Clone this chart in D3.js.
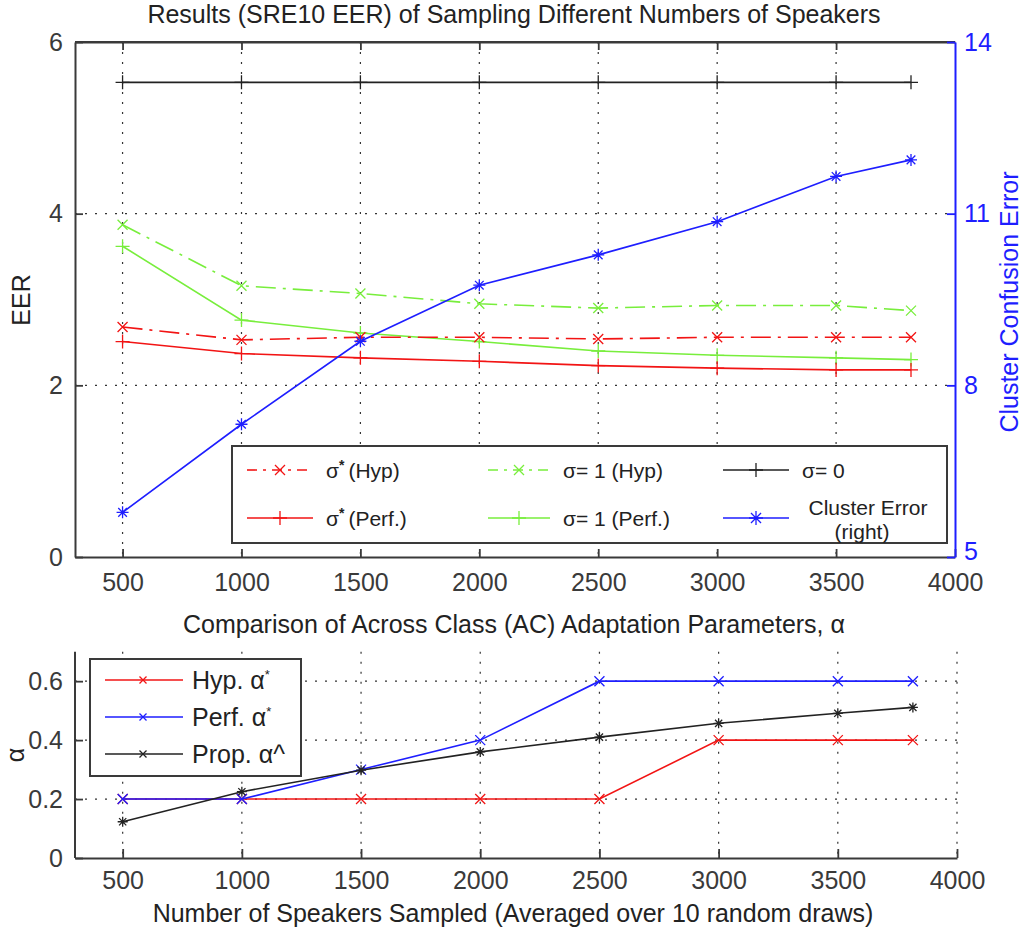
<!DOCTYPE html>
<html><head><meta charset="utf-8">
<script src="https://cdn.jsdelivr.net/npm/d3@7/dist/d3.min.js"></script>
<style>
body{margin:0;background:#fff;}
svg text{font-family:"Liberation Sans",Arial,sans-serif;fill:#222;}
</style></head>
<body><svg id="c" width="1034" height="932"></svg>
<script>
// ---------- data ----------
const speakers = [500,1000,1500,2000,2500,3000,3500,3815];
const sigStarHyp  = [2.68,2.53,2.56,2.56,2.54,2.56,2.56,2.56];
const sigStarPerf = [2.51,2.37,2.32,2.28,2.23,2.20,2.18,2.18];
const sig1Hyp     = [3.87,3.16,3.07,2.95,2.90,2.93,2.93,2.87];
const sig1Perf    = [3.62,2.76,2.61,2.51,2.40,2.35,2.32,2.30];
const sig0        = [5.53,5.53,5.53,5.53,5.53,5.53,5.53,5.53];
const clusterErr  = [5.78,7.32,8.77,9.75,10.28,10.86,11.65,11.94];
const hypAlpha    = [0.2,0.2,0.2,0.2,0.2,0.4,0.4,0.4];
const perfAlpha   = [0.2,0.2,0.3,0.4,0.6,0.6,0.6,0.6];
const propAlpha   = [0.123,0.225,0.298,0.36,0.41,0.457,0.491,0.511];
const xTicks = [500,1000,1500,2000,2500,3000,3500,4000];
const eerTicks = [0,2,4,6];
const ceTicks = [5,8,11,14];
const alphaTicks = [0,0.2,0.4,0.6];
const title1 = "Results (SRE10 EER) of Sampling Different Numbers of Speakers";
const title2 = "Comparison of Across Class (AC) Adaptation Parameters, α";
const xLabel = "Number of Speakers Sampled (Averaged over 10 random draws)";

const RED="#f21414", GREEN="#78ee3c", BLUE="#1e1eff", BLACK="#222", AX="#3a3a3a";
const svg = d3.select("#c");

// ---------- marker helper ----------
function marker(g, type, x, y, s, color, w){
  let p = "";
  if(type==="x") p=`M${x-s},${y-s}L${x+s},${y+s}M${x-s},${y+s}L${x+s},${y-s}`;
  if(type==="+") p=`M${x-s},${y}L${x+s},${y}M${x},${y-s}L${x},${y+s}`;
  if(type==="*"){const t=s*0.72;p=`M${x-s},${y}L${x+s},${y}M${x},${y-s}L${x},${y+s}M${x-t},${y-t}L${x+t},${y+t}M${x-t},${y+t}L${x+t},${y-t}`;}
  g.append("path").attr("d",p).attr("stroke",color).attr("stroke-width",w||1.3).attr("fill","none");
}

// ---------- top plot ----------
const x1 = d3.scaleLinear([300,4000],[75,955]);
const yL = d3.scaleLinear([0,6],[557,42]);
const yR = d3.scaleLinear([5,14],[557,42]);
const topG = svg.append("g");
// grid
topG.selectAll(".vg").data(xTicks.filter(d=>d<4000)).join("line")
  .attr("x1",d=>x1(d)).attr("x2",d=>x1(d)).attr("y1",42).attr("y2",557)
  .attr("stroke","#333").attr("stroke-width",1.2).attr("stroke-dasharray","2,8");
topG.selectAll(".hg").data([2,4]).join("line")
  .attr("x1",75).attr("x2",955).attr("y1",d=>yL(d)).attr("y2",d=>yL(d))
  .attr("stroke","#333").attr("stroke-width",1.2).attr("stroke-dasharray","2,8");

function series(g, xs, ys, X, Y, color, dash, mk, ms){
  const line = d3.line().x((d,i)=>X(xs[i])).y(d=>Y(d));
  g.append("path").attr("d",line(ys)).attr("fill","none").attr("stroke",color)
   .attr("stroke-width",1.6).attr("stroke-dasharray",dash||null);
  ys.forEach((v,i)=>marker(g,mk,X(xs[i]),Y(v),ms,color));
}
const DD="20,7,3,7";
series(topG,speakers,sig0,x1,yL,BLACK,null,"+",7);
series(topG,speakers,sig1Hyp,x1,yL,GREEN,DD,"x",5);
series(topG,speakers,sig1Perf,x1,yL,GREEN,null,"+",7);
series(topG,speakers,sigStarHyp,x1,yL,RED,DD,"x",5);
series(topG,speakers,sigStarPerf,x1,yL,RED,null,"+",7);
series(topG,speakers,clusterErr,x1,yR,BLUE,null,"*",6);

// axes
const fs = 25;
function styleAxis(g, color){
  g.select(".domain").attr("stroke",color).attr("stroke-width",2);
  g.selectAll(".tick line").attr("stroke",color).attr("stroke-width",1.8);
  g.selectAll(".tick text").attr("font-size",fs).style("fill",color).attr("font-family","Liberation Sans, Arial, sans-serif");
}
const axB = topG.append("g").attr("transform","translate(0,557)")
  .call(d3.axisBottom(x1).tickValues(xTicks).tickSizeInner(-8).tickSizeOuter(0).tickPadding(16).tickFormat(d3.format("d")));
styleAxis(axB,AX);
const axT = topG.append("g").attr("transform","translate(0,42)")
  .call(d3.axisTop(x1).tickValues(xTicks.filter(d=>d<4000)).tickSizeInner(-8).tickSizeOuter(0).tickFormat(""));
styleAxis(axT,AX);
topG.append("line").attr("x1",75).attr("x2",955).attr("y1",42).attr("y2",42).attr("stroke",AX).attr("stroke-width",2);
const axL = topG.append("g").attr("transform","translate(75,0)")
  .call(d3.axisLeft(yL).tickValues(eerTicks).tickSizeInner(-8).tickSizeOuter(0).tickPadding(12).tickFormat(d3.format("d")));
styleAxis(axL,AX);
const axR = topG.append("g").attr("transform","translate(955,0)")
  .call(d3.axisRight(yR).tickValues(ceTicks).tickSizeInner(-8).tickSizeOuter(0).tickPadding(9).tickFormat(d3.format("d")));
styleAxis(axR,BLUE);
axR.selectAll(".tick text").filter(d=>d===5).attr("dy","0.1em");

// labels
svg.append("text").attr("x",514).attr("y",23).attr("text-anchor","middle").attr("font-size",25).text(title1);
svg.append("text").attr("transform","translate(30,300) rotate(-90)").attr("text-anchor","middle").attr("font-size",fs).text("EER");
svg.append("text").attr("transform","translate(1018,302) rotate(-90)").attr("text-anchor","middle").attr("font-size",fs).style("fill",BLUE).text("Cluster Confusion Error");

// top legend
const lg = svg.append("g");
lg.append("rect").attr("x",232).attr("y",446).attr("width",715).attr("height",97).attr("fill","#fff").attr("stroke",AX).attr("stroke-width",2);
const lfs = 21;
const legItems = [
  {x0:247,x1:313,y:470,c:RED,dash:"10,6,3,6",mk:"x",lab:["σ","*","(Hyp)"]},
  {x0:247,x1:313,y:518,c:RED,dash:null,mk:"+",lab:["σ","*","(Perf.)"]},
  {x0:488,x1:550,y:470,c:GREEN,dash:"10,6,3,6",mk:"x",lab:["σ= 1 (Hyp)"]},
  {x0:488,x1:550,y:518,c:GREEN,dash:null,mk:"+",lab:["σ= 1 (Perf.)"]},
  {x0:723,x1:789,y:470,c:BLACK,dash:null,mk:"+",lab:["σ= 0"]},
  {x0:723,x1:789,y:518,c:BLUE,dash:null,mk:"*",lab:null}
];
legItems.forEach(it=>{
  lg.append("line").attr("x1",it.x0).attr("x2",it.x1).attr("y1",it.y).attr("y2",it.y)
    .attr("stroke",it.c).attr("stroke-width",1.6).attr("stroke-dasharray",it.dash);
  marker(lg,it.mk,(it.x0+it.x1)/2,it.y,it.mk==="x"?5:7,it.c);
  if(it.lab){
    const t = lg.append("text").attr("x",it.x1+13).attr("y",it.y+8).attr("font-size",lfs);
    if(it.lab.length===3){
      t.append("tspan").text(it.lab[0]);
      t.append("tspan").attr("dy",-8).attr("font-size",14).attr("font-weight","bold").text(it.lab[1]);
      t.append("tspan").attr("dy",8).attr("dx",4).text(it.lab[2]);
    } else t.text(it.lab[0]);
  }
});
lg.append("text").attr("x",868).attr("y",515).attr("text-anchor","middle").attr("font-size",lfs).text("Cluster Error");
lg.append("text").attr("x",862).attr("y",539).attr("text-anchor","middle").attr("font-size",lfs).text("(right)");

// ---------- bottom plot ----------
const x2 = d3.scaleLinear([300,4000],[75,957]);
const y2 = d3.scaleLinear([0,0.7],[858,651.7]);
const bot = svg.append("g");
bot.selectAll(".vg2").data(xTicks).join("line")
  .attr("x1",d=>x2(d)).attr("x2",d=>x2(d)).attr("y1",651.7).attr("y2",858)
  .attr("stroke","#333").attr("stroke-width",1.2).attr("stroke-dasharray","2,8");
bot.selectAll(".hg2").data([0.2,0.4,0.6]).join("line")
  .attr("x1",75).attr("x2",957).attr("y1",d=>y2(d)).attr("y2",d=>y2(d))
  .attr("stroke","#333").attr("stroke-width",1.2).attr("stroke-dasharray","2,8");
series(bot,speakers,hypAlpha,x2,y2,RED,null,"x",5);
series(bot,speakers,perfAlpha,x2,y2,BLUE,null,"x",5);
series(bot,speakers,propAlpha,x2,y2,BLACK,null,"*",5);

const axB2 = bot.append("g").attr("transform","translate(0,858)")
  .call(d3.axisBottom(x2).tickValues(xTicks).tickSizeInner(-9).tickSizeOuter(0).tickPadding(13).tickFormat(d3.format("d")));
styleAxis(axB2,AX);
const axL2 = bot.append("g").attr("transform","translate(75,0)")
  .call(d3.axisLeft(y2).tickValues(alphaTicks).tickSizeInner(-8).tickSizeOuter(0).tickPadding(12).tickFormat(d=>d===0?"0":d3.format(".1f")(d)));
styleAxis(axL2,AX);
axL2.select(".domain").attr("d","M0,651.7V858");

svg.append("text").attr("x",514).attr("y",633).attr("text-anchor","middle").attr("font-size",25).text(title2);
svg.append("text").attr("x",513).attr("y",922).attr("text-anchor","middle").attr("font-size",25).text(xLabel);
svg.append("text").attr("transform","translate(24,755) rotate(-90)").attr("text-anchor","middle").attr("font-size",fs).text("α");

// bottom legend
const lg2 = svg.append("g");
lg2.append("rect").attr("x",90).attr("y",659).attr("width",211).attr("height",117).attr("fill","#fff").attr("stroke",AX).attr("stroke-width",2);
const leg2 = [
  {y:680,c:RED,pre:"Hyp. α",sup:"*"},
  {y:717,c:BLUE,pre:"Perf. α",sup:"*"},
  {y:754,c:BLACK,pre:"Prop. α^",sup:null}
];
leg2.forEach(it=>{
  lg2.append("line").attr("x1",105).attr("x2",183).attr("y1",it.y).attr("y2",it.y).attr("stroke",it.c).attr("stroke-width",1.6);
  marker(lg2,"x",143,it.y,3.5,it.c);
  const t = lg2.append("text").attr("x",192).attr("y",it.y+9).attr("font-size",fs);
  t.append("tspan").text(it.pre);
  if(it.sup) t.append("tspan").attr("dy",-10).attr("font-size",13).text(it.sup);
});
</script></body></html>
